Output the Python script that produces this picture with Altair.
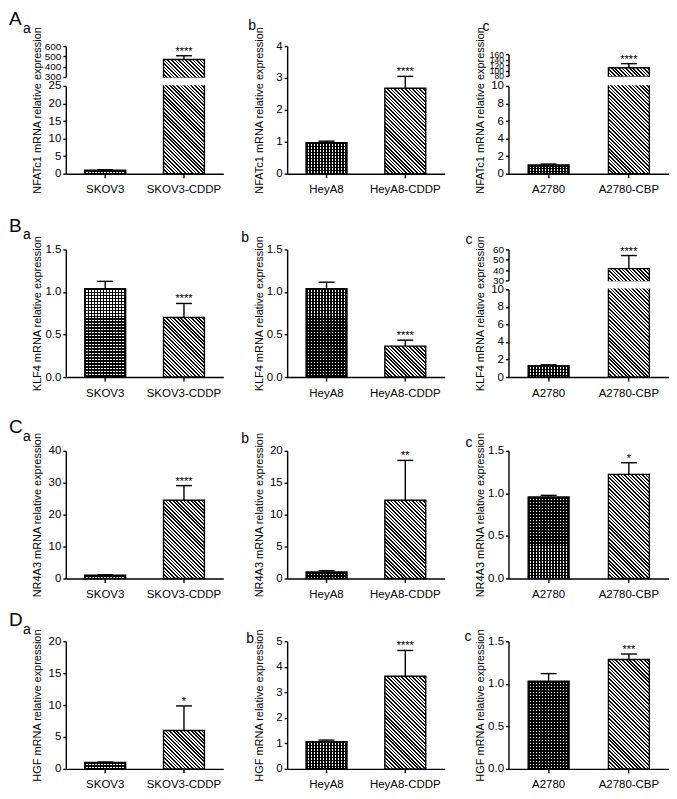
import math
import altair as alt
import pandas as pd

FONT = "Liberation Sans"

# ---------------- data ----------------
cats_a = ["SKOV3", "SKOV3-CDDP"]
cats_b = ["HeyA8", "HeyA8-CDDP"]
cats_c = ["A2780", "A2780-CBP"]

nfatc1_a_mean = [1.0, 469.0]
nfatc1_a_sem = [0.12, 37.0]
nfatc1_b_mean = [0.97, 2.68]
nfatc1_b_sem = [0.05, 0.37]
nfatc1_c_mean = [1.0, 110.0]
nfatc1_c_sem = [0.1, 15.0]

klf4_a_mean = [1.04, 0.70]
klf4_a_sem = [0.085, 0.165]
klf4_b_mean = [1.04, 0.364]
klf4_b_sem = [0.075, 0.07]
klf4_c_mean = [1.3, 41.4]
klf4_c_sem = [0.1, 12.7]

nr4a3_a_mean = [1.0, 24.5]
nr4a3_a_sem = [0.15, 4.6]
nr4a3_b_mean = [1.02, 12.25]
nr4a3_b_sem = [0.2, 6.25]
nr4a3_c_mean = [0.957, 1.223]
nr4a3_c_sem = [0.02, 0.137]

hgf_a_mean = [1.02, 6.02]
hgf_a_sem = [0.05, 3.85]
hgf_b_mean = [1.07, 3.63]
hgf_b_sem = [0.06, 1.01]
hgf_c_mean = [1.03, 1.285]
hgf_c_sem = [0.09, 0.065]

stars_nfatc1 = ["****", "****", "****"]
stars_klf4 = ["****", "****", "****"]
stars_nr4a3 = ["****", "**", "*"]
stars_hgf = ["*", "****", "***"]

ytitles = [
    "NFATc1 mRNA relative expression",
    "KLF4 mRNA relative expression",
    "NR4A3 mRNA relative expression",
    "HGF mRNA relative expression",
]

# ---------------- layout / style ----------------
BAR = 41
WIDTHS = [158, 158, 161]
HP = 128                  # plot height of every panel
OFF = [0, 13, 11, 0]      # extra space above the plot, per row
LW = 1.4


def stripe_stops(length, period, lw, dark, light):
    stops = []
    pos = 0.0
    while pos < length - 1e-6:
        a = pos / length
        b = min((pos + lw) / length, 1.0)
        c = min((pos + period) / length, 1.0)
        stops.append({"offset": round(a, 5), "color": dark})
        stops.append({"offset": round(b, 5), "color": dark})
        if b < 1.0:
            stops.append({"offset": round(b, 5), "color": light})
            stops.append({"offset": round(c, 5), "color": light})
        pos += period
    return stops


def diag_fill(w, h):
    L = (w + h) / math.sqrt(2)
    k = (w + h) / (w * w + h * h)
    return {"gradient": "linear", "x1": 0, "y1": 1,
            "x2": round(k * w, 6), "y2": round(1 - k * h, 6),
            "stops": stripe_stops(L, 2.55, 1.2, "#000000", "#ffffff")}


def vgrid_fill(w):
    return {"gradient": "linear", "x1": 0, "y1": 0, "x2": 1, "y2": 0,
            "stops": stripe_stops(w, 3.0, 1.6, "#000000", "#ffffff")}


def hgrid_fill(h):
    return {"gradient": "linear", "x1": 0, "y1": 0, "x2": 0, "y2": 1,
            "stops": stripe_stops(max(h, 0.5), 3.0, 1.6, "#000000", "rgba(0,0,0,0)")}


def seg(lo, hi, ticks, fmt="d", fs=11.5):
    return dict(dom=(lo, hi), ticks=ticks, fmt=fmt, fs=fs)


def seg_layers(cats, means, sems, star, sg, rng, title, title_y):
    lo, hi = sg["dom"]
    span = hi - lo
    ppu = (rng[0] - rng[1]) / span
    ext = 0.04 * span
    base = 0 if lo == 0 else lo - ext
    df = pd.DataFrame({"cat": cats, "mean": means, "sem": sems, "star": ["", star]})
    df["top"] = df["mean"] + df["sem"]
    df["ybar"] = df["mean"].clip(upper=hi + ext)
    df["ybase"] = base

    yscale = alt.Scale(domain=[lo, hi], nice=False, zero=False, range=list(rng))
    akw = dict(values=sg["ticks"], format=sg["fmt"], labelFontSize=sg["fs"],
               labelOverlap=False, orient="left", title=title)
    if title:
        akw["titleX"] = -23
        akw["titleY"] = title_y
    yaxis = alt.Axis(**akw)
    X = alt.X("cat:N", scale=alt.Scale(domain=cats, paddingInner=0, paddingOuter=0),
              axis=alt.Axis(title=None, labelAngle=0))

    def Y(f):
        return alt.Y(f, scale=yscale, axis=yaxis)

    layers = []
    for i in range(len(df)):
        r = df.iloc[i]
        if r["mean"] <= lo:
            continue
        d = df.iloc[[i]]
        hpx = (r["ybar"] - r["ybase"]) * ppu
        enc = dict(x=X, y=Y("ybar:Q"), y2="ybase:Q")
        if i == 0:
            layers.append(alt.Chart(d).mark_bar(size=BAR, fill=vgrid_fill(BAR),
                                                strokeWidth=0).encode(**enc))
            layers.append(alt.Chart(d).mark_bar(size=BAR, fill=hgrid_fill(hpx),
                                                stroke="black", strokeWidth=LW).encode(**enc))
        else:
            layers.append(alt.Chart(d).mark_bar(size=BAR, fill=diag_fill(BAR, hpx),
                                                stroke="black", strokeWidth=LW).encode(**enc))

    e = df[(df["mean"] >= lo) & (df["mean"] <= hi)]
    if len(e):
        layers.append(alt.Chart(e).mark_rule(color="black", strokeWidth=LW)
                      .encode(x=X, y=Y("mean:Q"), y2="top:Q"))
        layers.append(alt.Chart(e).mark_tick(color="black", thickness=LW, size=16, opacity=1,
                                             orient="horizontal")
                      .encode(x=X, y=Y("top:Q")))
        layers.append(alt.Chart(e).mark_text(font=FONT, fontSize=11, baseline="alphabetic",
                                             dy=-1, color="black")
                      .encode(x=X, y=Y("top:Q"), text="star:N"))
    return alt.layer(*layers)


def letter_layers(letters, off):
    out = []
    for (txt, lx, ly, fs) in letters:
        out.append(alt.Chart(pd.DataFrame({"t": [txt]}))
                   .mark_text(font=FONT, fontSize=fs, align="left", baseline="middle",
                              color="black")
                   .encode(text="t:N", x=alt.value(lx), y=alt.value(ly + off)))
    return out


def panel(row, col, cats, means, sems, star, title, segs, letters, top_h=31, top_off=0, gap=9):
    off = OFF[row]
    w = WIDTHS[col]
    hg = HP + off
    tY = (off + hg) / 2
    if len(segs) == 1:
        body = seg_layers(cats, means, sems, star, segs[0], (hg, off), title, tY)
        return alt.layer(body, *letter_layers(letters, off)).properties(width=w, height=hg)
    top, bot = segs
    t_rng = (off + top_h, off + top_off)
    b_rng = (hg, off + top_h + gap)
    c_top = seg_layers(cats, means, sems, star, top, t_rng, None, None)
    c_bot = seg_layers(cats, means, sems, star, bot, b_rng, title, tY)
    gap_rect = alt.Chart(pd.DataFrame({"g": [0]})).mark_rect(color="white").encode(
        x=alt.value(1), x2=alt.value(w), y=alt.value(t_rng[0] + 0.8), y2=alt.value(b_rng[1] - 0.8))
    return (alt.layer(c_top, c_bot, gap_rect, *letter_layers(letters, off))
            .resolve_scale(y="independent").properties(width=w, height=hg))


r15 = [0, 0.5, 1.0, 1.5]

panels = [
    # Row A
    panel(0, 0, cats_a, nfatc1_a_mean, nfatc1_a_sem, stars_nfatc1[0], ytitles[0],
          [seg(300, 600, [300, 400, 500, 600], fs=10), seg(0, 25, [0, 5, 10, 15, 20, 25])],
          [("A", -57, -27, 19), ("a", -43, -17.5, 14)], top_h=31, gap=9),
    panel(0, 1, cats_b, nfatc1_b_mean, nfatc1_b_sem, stars_nfatc1[1], ytitles[0],
          [seg(0, 4, [0, 1, 2, 3, 4])], [("b", -39, -20.5, 14)]),
    panel(0, 2, cats_c, nfatc1_c_mean, nfatc1_c_sem, stars_nfatc1[2], ytitles[0],
          [seg(80, 160, [80, 100, 120, 140, 160], fs=8.5), seg(0, 10, [0, 2, 4, 6, 8, 10])],
          [("c", -26, -19.5, 14)], top_h=30, top_off=8, gap=10),
    # Row B
    panel(1, 0, cats_a, klf4_a_mean, klf4_a_sem, stars_klf4[0], ytitles[1],
          [seg(0, 1.5, r15, fmt=".1f")], [("B", -57, -24, 19), ("a", -43, -14, 14)]),
    panel(1, 1, cats_b, klf4_b_mean, klf4_b_sem, stars_klf4[1], ytitles[1],
          [seg(0, 1.5, r15, fmt=".1f")], [("b", -46, -11, 14)]),
    panel(1, 2, cats_c, klf4_c_mean, klf4_c_sem, stars_klf4[2], ytitles[1],
          [seg(30, 60, [30, 40, 50, 60], fs=10), seg(0, 10, [0, 2, 4, 6, 8, 10])],
          [("c", -43, -9, 14)], top_h=31, gap=9),
    # Row C
    panel(2, 0, cats_a, nr4a3_a_mean, nr4a3_a_sem, stars_nr4a3[0], ytitles[2],
          [seg(0, 40, [0, 10, 20, 30, 40])], [("C", -57, -24, 19), ("a", -43, -14, 14)]),
    panel(2, 1, cats_b, nr4a3_b_mean, nr4a3_b_sem, stars_nr4a3[1], ytitles[2],
          [seg(0, 20, [0, 5, 10, 15, 20])], [("b", -46, -12, 14)]),
    panel(2, 2, cats_c, nr4a3_c_mean, nr4a3_c_sem, stars_nr4a3[2], ytitles[2],
          [seg(0, 1.5, r15, fmt=".1f")], [("c", -43, -8, 14)]),
    # Row D
    panel(3, 0, cats_a, hgf_a_mean, hgf_a_sem, stars_hgf[0], ytitles[3],
          [seg(0, 20, [0, 5, 10, 15, 20])], [("D", -57, -21, 19), ("a", -43, -11, 14)]),
    panel(3, 1, cats_b, hgf_b_mean, hgf_b_sem, stars_hgf[1], ytitles[3],
          [seg(0, 5, [0, 1, 2, 3, 4, 5])], [("b", -41, -2, 14)]),
    panel(3, 2, cats_c, hgf_c_mean, hgf_c_sem, stars_hgf[2], ytitles[3],
          [seg(0, 1.5, r15, fmt=".1f")], [("c", -44, -4, 14)]),
]

chart = alt.concat(*panels, columns=3, spacing={"row": 63, "column": 64},
                   bounds="flush", align="each").properties(
    padding={"left": 1, "top": 1, "right": 0, "bottom": 0})

chart = chart.configure_view(stroke=None).configure_axis(
    domainColor="black", domainWidth=LW, tickColor="black", tickWidth=LW, tickSize=3,
    labelFont=FONT, labelFontSize=11.5, labelColor="black", labelPadding=2,
    titleFont=FONT, titleFontSize=11, titleFontWeight="normal", titleColor="black",
    grid=False,
).configure_axisX(tickSize=4, labelPadding=6, labelFontSize=11.5)

chart.save("out.html", embed_options={"renderer": "svg", "actions": False})
